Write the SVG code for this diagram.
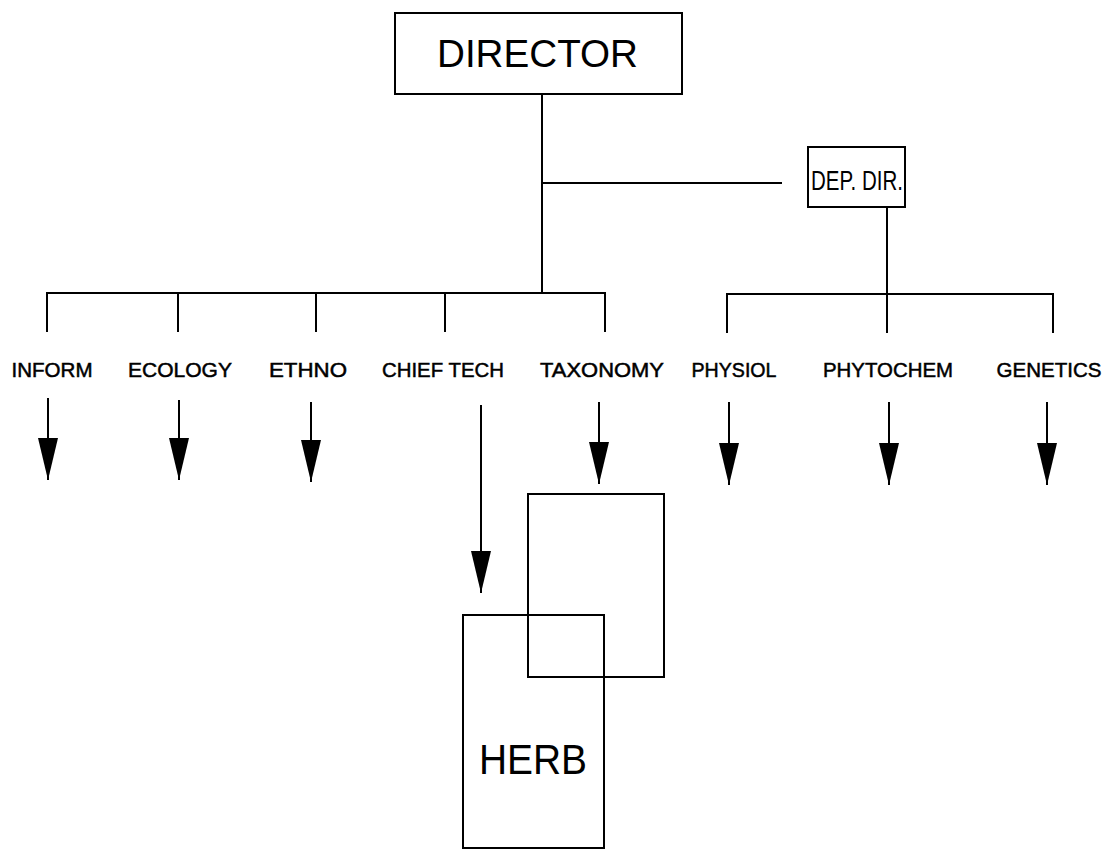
<svg xmlns="http://www.w3.org/2000/svg" width="1110" height="850" viewBox="0 0 1110 850">
  <style>
    .box { fill: none; stroke: #000; stroke-width: 2; }
    .wire { fill: none; stroke: #000; stroke-width: 2; }
    .arrow { fill: none; stroke: #000; stroke-width: 2; marker-end: url(#head); }
    .lbl { font-family: "Liberation Sans", Arial, sans-serif; font-size: 21px; fill: #000; stroke: #000; stroke-width: 0.5; text-anchor: middle; }
    .big { font-family: "Liberation Sans", Arial, sans-serif; fill: #000; }
  </style>
  <defs>
    <marker id="head" viewBox="0 0 42 20" refX="42" refY="10" markerWidth="42" markerHeight="20" markerUnits="userSpaceOnUse" orient="auto">
      <path d="M0,0 L42,10 L0,20 Z" fill="#000"/>
    </marker>
  </defs>
  <rect width="1110" height="850" fill="#fff"/>

  <!-- connectors -->
  <g id="connectors">
    <path class="wire" d="M542,94 V293"/>
    <path class="wire" d="M542,183 H782"/>
    <path class="wire" d="M887,207 V294"/>
    <!-- left bus with drops -->
    <path class="wire" d="M47,332 V293 H605 V332"/>
    <path class="wire" d="M178,293 V332"/>
    <path class="wire" d="M316,293 V332"/>
    <path class="wire" d="M445,293 V332"/>
    <!-- right bus with drops -->
    <path class="wire" d="M727,333 V294 H1053 V333"/>
    <path class="wire" d="M887,294 V333"/>
    <!-- arrows under the section labels -->
    <path class="arrow" d="M48,398 V480"/>
    <path class="arrow" d="M179,400 V480"/>
    <path class="arrow" d="M311,402 V482"/>
    <path class="arrow" d="M481,405 V593"/>
    <path class="arrow" d="M599,402 V484"/>
    <path class="arrow" d="M729,402 V485"/>
    <path class="arrow" d="M889,402 V485"/>
    <path class="arrow" d="M1047,402 V485"/>
  </g>

  <g id="director">
    <rect class="box" x="395" y="13" width="287" height="81"/>
    <text class="big" x="437" y="67" font-size="39" textLength="201" lengthAdjust="spacingAndGlyphs">DIRECTOR</text>
  </g>

  <g id="dep-dir">
    <rect class="box" x="808" y="147" width="97" height="60"/>
    <text class="big" x="811" y="190" font-size="28" textLength="92" lengthAdjust="spacingAndGlyphs">DEP. DIR.</text>
  </g>

  <g id="inform"><text class="lbl" x="52" y="377" textLength="81" lengthAdjust="spacingAndGlyphs">INFORM</text></g>
  <g id="ecology"><text class="lbl" x="180" y="377" textLength="104" lengthAdjust="spacingAndGlyphs">ECOLOGY</text></g>
  <g id="ethno"><text class="lbl" x="308" y="377" textLength="78" lengthAdjust="spacingAndGlyphs">ETHNO</text></g>
  <g id="chief-tech"><text class="lbl" x="443" y="377" textLength="122" lengthAdjust="spacingAndGlyphs">CHIEF TECH</text></g>
  <g id="taxonomy"><text class="lbl" x="602" y="377" textLength="124" lengthAdjust="spacingAndGlyphs">TAXONOMY</text></g>
  <g id="physiol"><text class="lbl" x="734" y="377" textLength="85" lengthAdjust="spacingAndGlyphs">PHYSIOL</text></g>
  <g id="phytochem"><text class="lbl" x="888" y="377" textLength="130" lengthAdjust="spacingAndGlyphs">PHYTOCHEM</text></g>
  <g id="genetics"><text class="lbl" x="1049" y="377" textLength="105" lengthAdjust="spacingAndGlyphs">GENETICS</text></g>

  <g id="taxonomy-box">
    <rect class="box" x="528" y="494" width="136" height="183"/>
  </g>

  <g id="herb">
    <rect class="box" x="463" y="615" width="141" height="233"/>
    <text class="big" x="479" y="774" font-size="43" textLength="108" lengthAdjust="spacingAndGlyphs">HERB</text>
  </g>
</svg>
